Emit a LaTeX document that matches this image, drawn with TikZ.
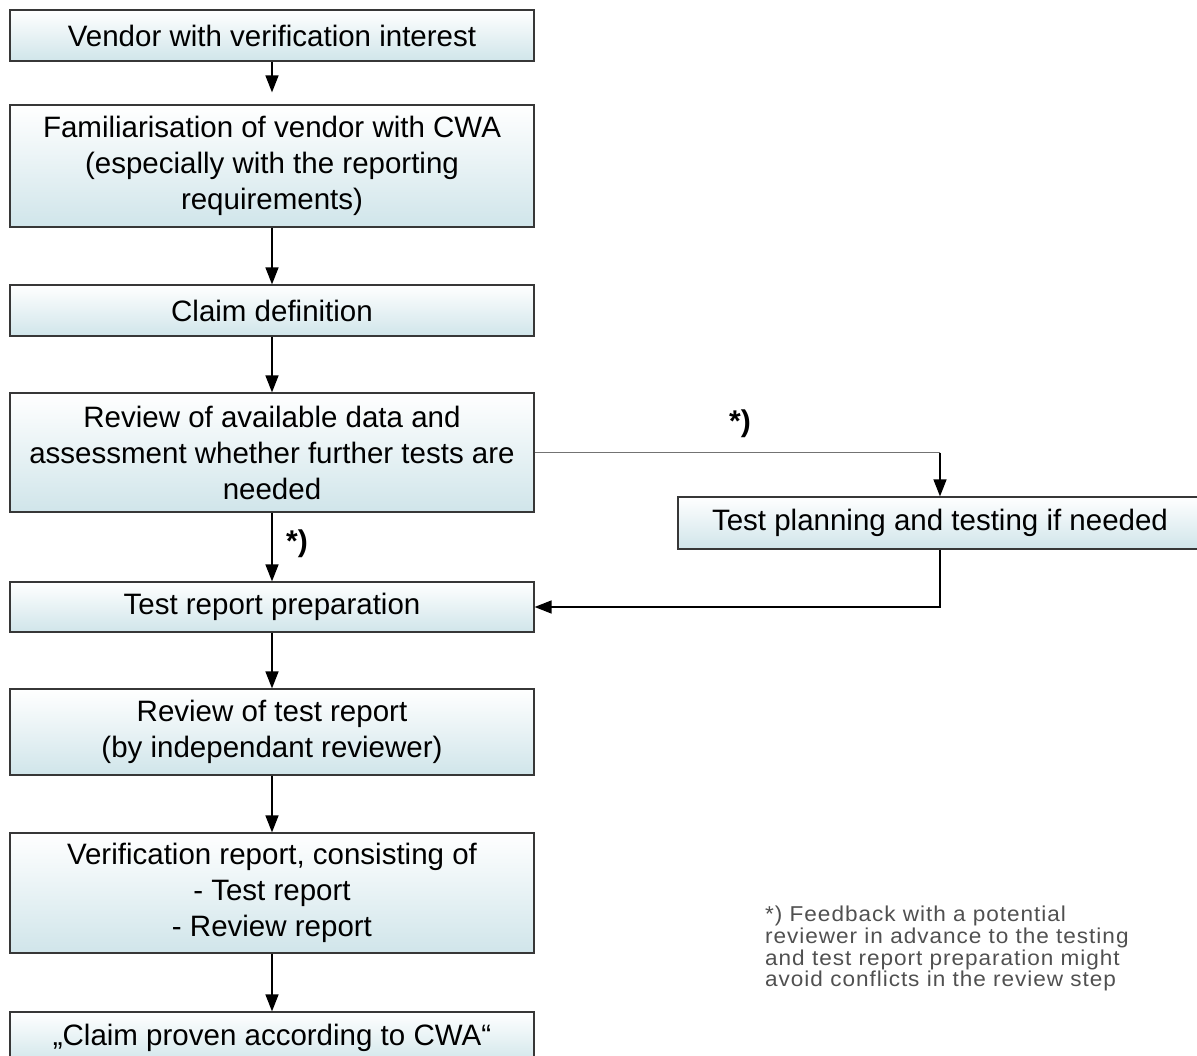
\documentclass[tikz,border=0pt]{standalone}
\usepackage{fontspec}
\setmainfont{Liberation Sans}
\newfontfamily\notefont[FakeStretch=1.05,LetterSpace=4.5]{Liberation Sans}
\usetikzlibrary{arrows.meta}
\definecolor{boxblue}{RGB}{208,229,234}
\definecolor{edgegray}{RGB}{55,55,55}
\definecolor{notegray}{RGB}{80,80,80}
\begin{document}
\begin{tikzpicture}[x=1pt,y=-1pt,
  flowbox/.style={draw=edgegray, line width=1.2pt, top color=white, bottom color=boxblue,
    minimum width=524pt, inner sep=0pt, align=center,
    font=\fontsize{29.5}{36}\selectfont},
  flowarrow/.style={draw=black, line width=1.4pt, -{Triangle[length=17pt,width=13pt]}},
  thinline/.style={draw=black!55, line width=1.1pt},
  starlabel/.style={font=\fontsize{30}{34}\selectfont\bfseries, inner sep=0pt},
  notetext/.style={font=\notefont\fontsize{21.5}{21.7}\selectfont, text=notegray,
    align=left, inner sep=0pt, anchor=north west}
  ]
\path[use as bounding box] (0,0) rectangle (1197,1056);
\clip (0,0) rectangle (1197,1056);

\node[flowbox, minimum height=51pt]  (b1) at (272,35.5) {Vendor with verification interest};
\node[flowbox, minimum height=122pt] (b2) at (272,166) {Familiarisation of vendor with CWA\\(especially with the reporting\\requirements)};
\node[flowbox, minimum height=51pt]  (b3) at (272,310.5) {Claim definition};
\node[flowbox, minimum height=119pt] (b4) at (272,452.5) {Review of available data and\\assessment whether further tests are\\needed};
\node[flowbox, minimum height=50pt]  (b5) at (272,607) {Test report preparation};
\node[flowbox, minimum height=86pt]  (b6) at (272,732) {Review of test report\\(by independant reviewer)};
\node[flowbox, minimum height=120pt] (b7) at (272,893) {Verification report, consisting of\\- Test report\\- Review report};
\node[flowbox, minimum height=52pt]  (b8) at (272,1038) {„Claim proven according to CWA“};
\node[flowbox, minimum height=52pt]  (rt) at (940,523) {Test planning and testing if needed};

\node[starlabel] (s1) at (297,544) {*)};
\node[starlabel] (s2) at (740,424) {*)};

\node[notetext] (note) at (765,906) {*) Feedback with a potential\\reviewer in advance to the testing\\and test report preparation might\\avoid conflicts in the review step};

\draw[flowarrow, shorten >=12pt] (b1) -- (b2);
\draw[flowarrow] (b2) -- (b3);
\draw[flowarrow] (b3) -- (b4);
\draw[flowarrow] (b4) -- (b5);
\draw[flowarrow] (b5) -- (b6);
\draw[flowarrow] (b6) -- (b7);
\draw[flowarrow] (b7) -- (b8);

\coordinate (corner) at (b4.east -| rt.north);
\draw[thinline] (b4.east) -- (corner);
\draw[flowarrow] (corner) -- (rt.north);
\draw[flowarrow] (rt.south) |- (b5.east);
\end{tikzpicture}
\end{document}
